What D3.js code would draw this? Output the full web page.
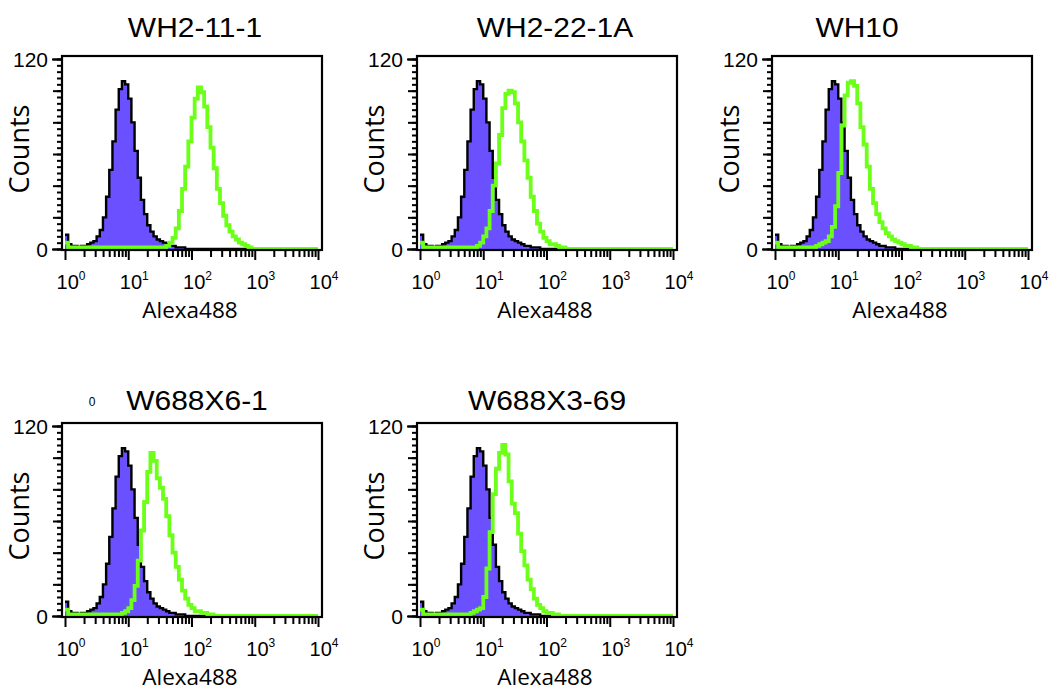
<!DOCTYPE html>
<html><head><meta charset="utf-8">
<script src="https://cdn.jsdelivr.net/npm/d3@7"></script>
<style>body{margin:0;background:#fff} svg{display:block}</style>
</head><body><svg id="c" width="1050" height="698"></svg>
<script>
// ---------------- DATA ----------------
const titles = ["WH2-11-1", "WH2-22-1A", "WH10", "W688X6-1", "W688X3-69"];
const binWidthLog = 0.05;          // channel width in decades
const nBins = 80;                  // 10^0 .. 10^4
const xTickExps = [0, 1, 2, 3, 4];
const yLabelTicks = [0, 120];
// isotype control (same in every panel)
const controlCounts = [9,3,2,2,1,2,2,3,4,5, 8,12,20,33,50,68,88,101,106,104,
  95,80,62,45,31,22,15,11,8,6, 5,4,3,2,2,1,1,1];
const green1 = [4,1,1,1,1,1,1,1,1,1, 1,1,1,1,1,1,1,1,1,1, 1,1,1,1,1,1,1,1,1,1,
  1,1,2,4,7,13,24,38,52,68, 83,95,102,99,90,77,64,51,38,29, 21,15,11,8,6,4,3,2,1];
const green2 = [4,1,1,1,1,1,1,1,1,1, 1,1,1,1,1,1,1,1,2,4,
  8,13,24,40,54,72,89,98,100,99, 92,80,68,56,45,33,24,16,11,7, 5,3,3,2,1,1];
const green3 = [4,1,1,1,1,1,1,1,1,1, 1,1,1,2,3,4,5,8,14,27,
  48,78,97,105,106,103,92,77,66,52, 38,29,22,17,13,10,8,6,5,4, 3,2,2,1,1];
const green4 = [4,1,1,1,1,1,1,1,1,1, 1,1,1,1,1,1,1,1,2,3,
  5,10,19,35,54,72,91,103,98,87, 81,74,63,51,40,31,23,16,11,7, 5,3,3,2,2,1,1];
const green5 = [4,1,1,1,1,1,1,1,1,1, 1,1,1,1,1,1,2,3,4,5,
  12,30,53,77,93,103,108,102,85,71, 65,52,41,32,23,17,11,7,5,3, 2,2,1,1];
const greenSeries = [green1, green2, green3, green4, green5];

// ---------------- LAYOUT ----------------
const svg = d3.select("#c");
const colLeft = [62, 417, 772];     // box left
const rowTop = [56, 423];           // box top
const boxW = 260, boxH = 194;
const purple = "#6a50ff", green = "#6cff18";

function pad(a){ const r = a.slice(); while (r.length < nBins) r.push(0); return r; }

titles.forEach((t, k) => {
  const col = k < 3 ? k : k - 3, row = k < 3 ? 0 : 1;
  const L = colLeft[col], T = rowTop[row];
  const g = svg.append("g").attr("transform", `translate(${L},${T})`);
  const x = d3.scaleLog().domain([1, 1e4]).range([3, 256]);
  const y = d3.scaleLinear().domain([0, 120]).range([193, 3]);

  const clipId = "clip" + k;
  g.append("clipPath").attr("id", clipId).append("rect")
    .attr("x", 0).attr("y", 0).attr("width", boxW).attr("height", boxH);
  const plot = g.append("g").attr("clip-path", `url(#${clipId})`);

  const toPts = arr => { const p = pad(arr).map((c, i) => [Math.pow(10, i * binWidthLog), c]);
    p.push([Math.pow(10, nBins * binWidthLog), p[p.length - 1][1]]); return p; };

  const ctrl = toPts(controlCounts);
  plot.append("path").datum(ctrl)
    .attr("d", d3.area().x(d => x(d[0])).y0(y(0)).y1(d => y(d[1])).curve(d3.curveStepAfter))
    .attr("fill", purple);
  plot.append("path").datum(ctrl)
    .attr("d", d3.line().x(d => x(d[0])).y(d => y(d[1])).curve(d3.curveStepAfter))
    .attr("fill", "none").attr("stroke", "#000").attr("stroke-width", 2.4);
  plot.append("path").datum(toPts(greenSeries[k]))
    .attr("d", d3.line().x(d => x(d[0])).y(d => y(d[1])).curve(d3.curveStepAfter))
    .attr("fill", "none").attr("stroke", green).attr("stroke-width", 3.8);

  // box
  g.append("rect").attr("x", 0).attr("y", 0).attr("width", boxW).attr("height", boxH)
    .attr("fill", "none").attr("stroke", "#000").attr("stroke-width", 2.2);

  // y axis ticks
  const yAx = (vals, size) => g.append("g").call(d3.axisLeft(y).tickValues(vals).tickSize(size).tickFormat(""))
    .call(s => { s.select(".domain").remove(); s.selectAll("line").attr("stroke-width", 2); });
  yAx(d3.range(0, 121, 4), 5);
  yAx(d3.range(0, 121, 20), 9);
  yAx(yLabelTicks, 10);
  g.selectAll(null).data(yLabelTicks).join("text")
    .attr("x", -14).attr("y", d => y(d) + 7.5).attr("text-anchor", "end")
    .attr("font-family", "Liberation Sans, Arial, sans-serif").attr("font-size", 21)
    .text(d => d);

  // x axis ticks
  const minor = [];
  for (let e = 0; e < 4; e++) for (let m = 2; m <= 9; m++) minor.push(m * Math.pow(10, e));
  const xAx = (vals, size) => g.append("g").attr("transform", `translate(0,${boxH})`)
    .call(d3.axisBottom(x).tickValues(vals).tickSize(size).tickFormat(""))
    .call(s => { s.select(".domain").remove(); s.selectAll("line").attr("stroke-width", 2); });
  xAx(minor, 7);
  xAx(xTickExps.map(e => Math.pow(10, e)), 10);
  const lab = g.selectAll(null).data(xTickExps).join("text")
    .attr("x", e => x(Math.pow(10, e)) + 6).attr("y", boxH + 39).attr("text-anchor", "middle")
    .attr("font-family", "Liberation Sans, Arial, sans-serif").attr("font-size", 20);
  lab.append("tspan").text("10");
  lab.append("tspan").attr("dy", -9).attr("font-size", 12).text(e => e);

  // axis titles
  g.append("text").attr("transform", `translate(-33,${boxH / 2 - 4}) rotate(-90)`)
    .attr("text-anchor", "middle").attr("font-family", "Open Sans, sans-serif").attr("font-size", 27)
    .text("Counts");
  g.append("text").attr("x", 128).attr("y", boxH + 68).attr("text-anchor", "middle")
    .attr("font-family", "Open Sans, sans-serif").attr("font-size", 22.5).text("Alexa488");
});

// panel titles
const titleX = [195, 555, 857, 197, 547];
const titleY = [37, 37, 37, 410, 410];
titles.forEach((t, k) => {
  svg.append("text").attr("transform", `translate(${titleX[k]},${titleY[k]}) scale(1.11,1)`)
    .attr("text-anchor", "middle").attr("font-family", "Liberation Sans, Arial, sans-serif")
    .attr("font-size", 27).text(t);
});
svg.append("text").attr("x", 92).attr("y", 406).attr("text-anchor", "middle")
  .attr("font-family", "Liberation Sans, Arial, sans-serif").attr("font-size", 12).text("0");
</script></body></html>
